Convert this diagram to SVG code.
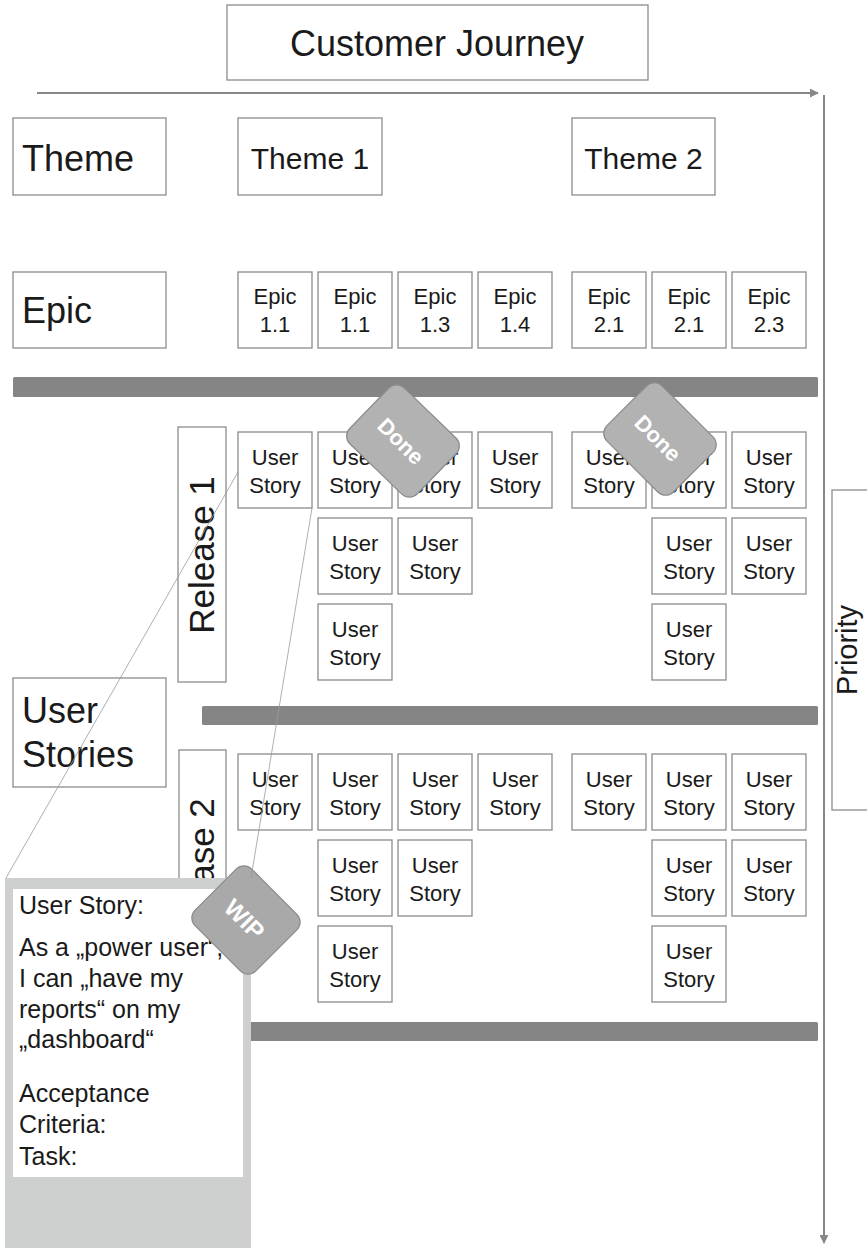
<svg xmlns="http://www.w3.org/2000/svg" width="867" height="1248" viewBox="0 0 867 1248" font-family="'Liberation Sans', Arial, Helvetica, sans-serif">
<style>
.box{fill:#fff;stroke:#8c8c8c;stroke-width:1.3}
.t{font-family:'Liberation Sans',Arial,Helvetica,sans-serif;fill:#1a1a1a}
.big{font-size:36px}
.mid{font-size:30px}
.sm{font-size:22px;text-anchor:middle}
.card{font-size:25px}
.bar{fill:#858585}
.tag{fill:#b2b2b2;stroke:#8c8c8c;stroke-width:1.2}
.tagt{font-family:'Liberation Sans',Arial,Helvetica,sans-serif;fill:#fff;text-anchor:middle;font-weight:bold}
.lead{stroke:#9a9a9a;stroke-width:0.8;fill:none}
.axis{stroke:#888;stroke-width:2;fill:none}
</style>
<defs>
<marker id="ah" viewBox="0 0 10 10" refX="9" refY="5" markerWidth="4.5" markerHeight="4.5" orient="auto" markerUnits="strokeWidth">
<path d="M0,0 L10,5 L0,10 z" fill="#888"/>
</marker>
</defs>

<g id="axes">
<line class="axis" x1="37" y1="93" x2="818" y2="93" marker-end="url(#ah)"/>
<line class="axis" x1="824" y1="95" x2="824" y2="1243" marker-end="url(#ah)"/>
</g>

<g id="title"><rect class="box" x="227" y="5" width="421" height="75"/><text class="t big" x="437" y="56" text-anchor="middle">Customer Journey</text></g>

<g id="theme-label"><rect class="box" x="13" y="118" width="153" height="77"/><text class="t big" x="22" y="171">Theme</text></g>
<g id="theme1"><rect class="box" x="238" y="118" width="144" height="77"/><text class="t mid" x="310" y="169" text-anchor="middle">Theme 1</text></g>
<g id="theme2"><rect class="box" x="572" y="118" width="143" height="77"/><text class="t mid" x="643.5" y="169" text-anchor="middle">Theme 2</text></g>

<g id="epic-label"><rect class="box" x="13" y="272" width="153" height="76"/><text class="t big" x="22" y="323">Epic</text></g>
<g id="epic1-1"><rect class="box" x="238" y="272" width="74" height="76"/><text class="t sm" x="275" y="304">Epic</text><text class="t sm" x="275" y="332">1.1</text></g>
<g id="epic1-1b"><rect class="box" x="318" y="272" width="74" height="76"/><text class="t sm" x="355" y="304">Epic</text><text class="t sm" x="355" y="332">1.1</text></g>
<g id="epic1-3"><rect class="box" x="398" y="272" width="74" height="76"/><text class="t sm" x="435" y="304">Epic</text><text class="t sm" x="435" y="332">1.3</text></g>
<g id="epic1-4"><rect class="box" x="478" y="272" width="74" height="76"/><text class="t sm" x="515" y="304">Epic</text><text class="t sm" x="515" y="332">1.4</text></g>
<g id="epic2-1"><rect class="box" x="572" y="272" width="74" height="76"/><text class="t sm" x="609" y="304">Epic</text><text class="t sm" x="609" y="332">2.1</text></g>
<g id="epic2-1b"><rect class="box" x="652" y="272" width="74" height="76"/><text class="t sm" x="689" y="304">Epic</text><text class="t sm" x="689" y="332">2.1</text></g>
<g id="epic2-3"><rect class="box" x="732" y="272" width="74" height="76"/><text class="t sm" x="769" y="304">Epic</text><text class="t sm" x="769" y="332">2.3</text></g>

<g id="bars">
<rect class="bar" x="13" y="377" width="805" height="20" rx="1.5"/>
<rect class="bar" x="202" y="706" width="616" height="19" rx="1.5"/>
<rect class="bar" x="240" y="1022" width="578" height="19" rx="1.5"/>
</g>

<g id="release1"><rect class="box" x="178" y="427" width="48" height="255"/><text class="t" font-size="35" transform="translate(214,555) rotate(-90)" text-anchor="middle">Release 1</text></g>

<g id="user-stories-label"><rect class="box" x="13" y="678" width="153" height="109"/><text class="t big" x="22" y="723">User</text><text class="t big" x="22" y="767">Stories</text></g>

<g id="priority"><rect class="box" x="832" y="490" width="36" height="320"/><text class="t" font-size="29" transform="translate(857,650) rotate(-90)" text-anchor="middle">Priority</text></g>

<g id="r1-stories">
<g id="r1-a1"><rect class="box" x="238" y="432" width="74" height="76"/><text class="t sm" x="275" y="465">User</text><text class="t sm" x="275" y="493">Story</text></g>
<g id="r1-a2"><rect class="box" x="318" y="432" width="74" height="76"/><text class="t sm" x="355" y="465">User</text><text class="t sm" x="355" y="493">Story</text></g>
<g id="r1-a3"><rect class="box" x="398" y="432" width="74" height="76"/><text class="t sm" x="435" y="465">User</text><text class="t sm" x="435" y="493">Story</text></g>
<g id="r1-a4"><rect class="box" x="478" y="432" width="74" height="76"/><text class="t sm" x="515" y="465">User</text><text class="t sm" x="515" y="493">Story</text></g>
<g id="r1-a5"><rect class="box" x="572" y="432" width="74" height="76"/><text class="t sm" x="609" y="465">User</text><text class="t sm" x="609" y="493">Story</text></g>
<g id="r1-a6"><rect class="box" x="652" y="432" width="74" height="76"/><text class="t sm" x="689" y="465">User</text><text class="t sm" x="689" y="493">Story</text></g>
<g id="r1-a7"><rect class="box" x="732" y="432" width="74" height="76"/><text class="t sm" x="769" y="465">User</text><text class="t sm" x="769" y="493">Story</text></g>
<g id="r1-b2"><rect class="box" x="318" y="518" width="74" height="76"/><text class="t sm" x="355" y="551">User</text><text class="t sm" x="355" y="579">Story</text></g>
<g id="r1-b3"><rect class="box" x="398" y="518" width="74" height="76"/><text class="t sm" x="435" y="551">User</text><text class="t sm" x="435" y="579">Story</text></g>
<g id="r1-b6"><rect class="box" x="652" y="518" width="74" height="76"/><text class="t sm" x="689" y="551">User</text><text class="t sm" x="689" y="579">Story</text></g>
<g id="r1-b7"><rect class="box" x="732" y="518" width="74" height="76"/><text class="t sm" x="769" y="551">User</text><text class="t sm" x="769" y="579">Story</text></g>
<g id="r1-c2"><rect class="box" x="318" y="604" width="74" height="76"/><text class="t sm" x="355" y="637">User</text><text class="t sm" x="355" y="665">Story</text></g>
<g id="r1-c6"><rect class="box" x="652" y="604" width="74" height="76"/><text class="t sm" x="689" y="637">User</text><text class="t sm" x="689" y="665">Story</text></g>
</g>

<g id="done1"><rect class="tag" x="-47" y="-39" width="94" height="78" rx="11" transform="translate(403,441) rotate(44)"/><text class="tagt" font-size="22" transform="translate(401,441) rotate(45)" y="8">Done</text></g>
<g id="done2"><rect class="tag" x="-47" y="-39" width="94" height="78" rx="11" transform="translate(660,439) rotate(45)"/><text class="tagt" font-size="22" transform="translate(658,438) rotate(45)" y="8">Done</text></g>

<g id="release2"><rect class="box" x="179" y="750" width="47" height="255"/><text class="t" font-size="35" transform="translate(214,877) rotate(-90)" text-anchor="middle">Release 2</text></g>

<g id="r2-stories">
<g id="r2-a1"><rect class="box" x="238" y="754" width="74" height="76"/><text class="t sm" x="275" y="787">User</text><text class="t sm" x="275" y="815">Story</text></g>
<g id="r2-a2"><rect class="box" x="318" y="754" width="74" height="76"/><text class="t sm" x="355" y="787">User</text><text class="t sm" x="355" y="815">Story</text></g>
<g id="r2-a3"><rect class="box" x="398" y="754" width="74" height="76"/><text class="t sm" x="435" y="787">User</text><text class="t sm" x="435" y="815">Story</text></g>
<g id="r2-a4"><rect class="box" x="478" y="754" width="74" height="76"/><text class="t sm" x="515" y="787">User</text><text class="t sm" x="515" y="815">Story</text></g>
<g id="r2-a5"><rect class="box" x="572" y="754" width="74" height="76"/><text class="t sm" x="609" y="787">User</text><text class="t sm" x="609" y="815">Story</text></g>
<g id="r2-a6"><rect class="box" x="652" y="754" width="74" height="76"/><text class="t sm" x="689" y="787">User</text><text class="t sm" x="689" y="815">Story</text></g>
<g id="r2-a7"><rect class="box" x="732" y="754" width="74" height="76"/><text class="t sm" x="769" y="787">User</text><text class="t sm" x="769" y="815">Story</text></g>
<g id="r2-b2"><rect class="box" x="318" y="840" width="74" height="76"/><text class="t sm" x="355" y="873">User</text><text class="t sm" x="355" y="901">Story</text></g>
<g id="r2-b3"><rect class="box" x="398" y="840" width="74" height="76"/><text class="t sm" x="435" y="873">User</text><text class="t sm" x="435" y="901">Story</text></g>
<g id="r2-b6"><rect class="box" x="652" y="840" width="74" height="76"/><text class="t sm" x="689" y="873">User</text><text class="t sm" x="689" y="901">Story</text></g>
<g id="r2-b7"><rect class="box" x="732" y="840" width="74" height="76"/><text class="t sm" x="769" y="873">User</text><text class="t sm" x="769" y="901">Story</text></g>
<g id="r2-c2"><rect class="box" x="318" y="926" width="74" height="76"/><text class="t sm" x="355" y="959">User</text><text class="t sm" x="355" y="987">Story</text></g>
<g id="r2-c6"><rect class="box" x="652" y="926" width="74" height="76"/><text class="t sm" x="689" y="959">User</text><text class="t sm" x="689" y="987">Story</text></g>
</g>

<g id="story-card">
<rect x="5" y="878" width="246" height="370" fill="#cdd0cf"/>
<rect x="13" y="889" width="230" height="288" fill="#fff"/>
<text class="t card" x="19" y="914">User Story:</text>
<text class="t card" x="19" y="956">As a „power user“,</text>
<text class="t card" x="19" y="987">I can „have my</text>
<text class="t card" x="19" y="1018">reports“ on my</text>
<text class="t card" x="19" y="1048">„dashboard“</text>
<text class="t card" x="19" y="1102">Acceptance</text>
<text class="t card" x="19" y="1133">Criteria:</text>
<text class="t card" x="19" y="1165">Task:</text>
</g>

<g id="wip"><rect class="tag" x="-43" y="-40" width="86" height="80" rx="11" transform="translate(246,920) rotate(45)" style="fill:#a9a9a9"/><text class="tagt" font-size="24" transform="translate(245,919) rotate(45)" y="9">WIP</text></g>

<g id="connectors">
<line class="lead" x1="6" y1="878" x2="238" y2="472"/>
<line class="lead" x1="312" y1="508" x2="251" y2="878"/>
</g>
</svg>
